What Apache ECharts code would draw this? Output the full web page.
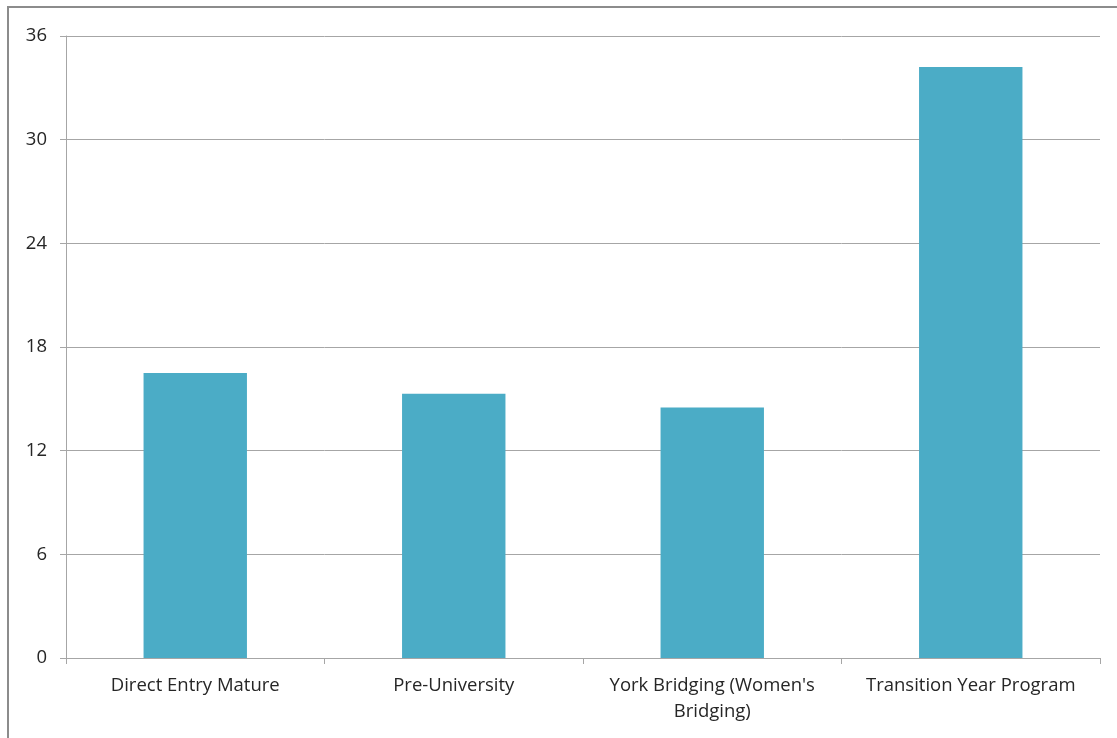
<!DOCTYPE html>
<html>
<head>
<meta charset="utf-8">
<script src="https://cdn.jsdelivr.net/npm/echarts@6/dist/echarts.min.js"></script>
<style>
html,body{margin:0;padding:0;background:#fff;overflow:hidden;}
#frame{position:absolute;left:7px;top:6px;width:1300px;height:900px;border:2px solid #8c8c8c;box-sizing:border-box;}
#chart{position:absolute;left:0;top:0;width:1117px;height:738px;}
</style>
</head>
<body>
<div id="frame"></div>
<div id="chart"></div>
<script>
const categories = ["Direct Entry Mature", "Pre-University", "York Bridging (Women's\nBridging)", "Transition Year Program"];
const values = [16.5, 15.3, 14.5, 34.2];
const yTicks = [0, 6, 12, 18, 24, 30, 36];

const chart = echarts.init(document.getElementById('chart'));
chart.setOption({
  animation: false,
  grid: {left: 66, right: 17, top: 36, bottom: 80},
  xAxis: {
    type: 'category',
    data: categories,
    axisLine: {lineStyle: {color: '#a6a6a6', width: 1}},
    axisTick: {show: true, length: 6, alignWithLabel: false, lineStyle: {color: '#a6a6a6'}},
    axisLabel: {color: '#262626', fontSize: 18.5, fontFamily: 'Open Sans', margin: 15, lineHeight: 26, interval: 0}
  },
  yAxis: {
    type: 'value',
    min: yTicks[0], max: yTicks[yTicks.length - 1], interval: 6,
    axisLine: {show: true, lineStyle: {color: '#a6a6a6', width: 1}},
    axisTick: {show: true, length: 6, lineStyle: {color: '#a6a6a6'}},
    axisLabel: {color: '#262626', fontSize: 18.5, fontFamily: 'Open Sans', margin: 19},
    splitLine: {lineStyle: {color: '#a6a6a6', width: 1}}
  },
  series: [{
    type: 'bar',
    data: values,
    barWidth: '40%',
    itemStyle: {color: '#4bacc6'}
  }]
});
</script>
</body>
</html>
